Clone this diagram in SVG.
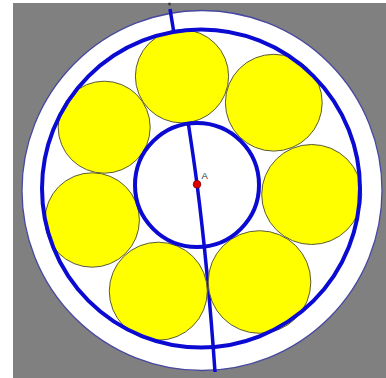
<svg xmlns="http://www.w3.org/2000/svg" width="386" height="378" viewBox="0 0 386 378">
<style>
.ball{fill:#ffff00;stroke:#5a5a3a;stroke-width:1}
.ring{fill:none;stroke:#0a0ad2;stroke-width:4}
</style>
<rect x="0" y="0" width="386" height="378" fill="#ffffff"/>
<rect id="background" x="13" y="3" width="373" height="375" fill="#808080"/>
<g id="outer-race"><circle cx="202" cy="190.5" r="180" fill="#ffffff" stroke="#4848a0" stroke-width="1.3"/></g>
<g id="connectors">
<path d="M170,9 C180,70 190,130 197,184 S210,300 215,372" fill="none" stroke="#0a0ad2" stroke-width="3.5"/>
</g>
<g id="balls">
<circle id="ball1" class="ball" cx="182" cy="76.3" r="46.6"/>
<circle id="ball2" class="ball" cx="273.8" cy="102.7" r="48.4"/>
<circle id="ball3" class="ball" cx="104.2" cy="127.2" r="46"/>
<circle id="ball4" class="ball" cx="311.7" cy="194.5" r="50"/>
<circle id="ball5" class="ball" cx="92.2" cy="220" r="47.2"/>
<circle id="ball6" class="ball" cx="158.3" cy="291.2" r="49"/>
<circle id="ball7" class="ball" cx="259.5" cy="282" r="51.3"/>
</g>
<g id="cage-ring"><circle class="ring" cx="201" cy="188.5" r="159"/></g>
<g id="inner-ring"><circle class="ring" cx="197" cy="185" r="62"/></g>
<g id="top-mark"><circle cx="169.5" cy="4" r="1.6" fill="#444444"/></g>
<g id="point-A">
<circle cx="197" cy="184.3" r="3.8" fill="#e00000" stroke="#800000" stroke-width="0.8"/>
<text x="201.5" y="179" font-family="Liberation Sans, Arial, sans-serif" font-size="9.5" fill="#333333">A</text>
</g>
</svg>
